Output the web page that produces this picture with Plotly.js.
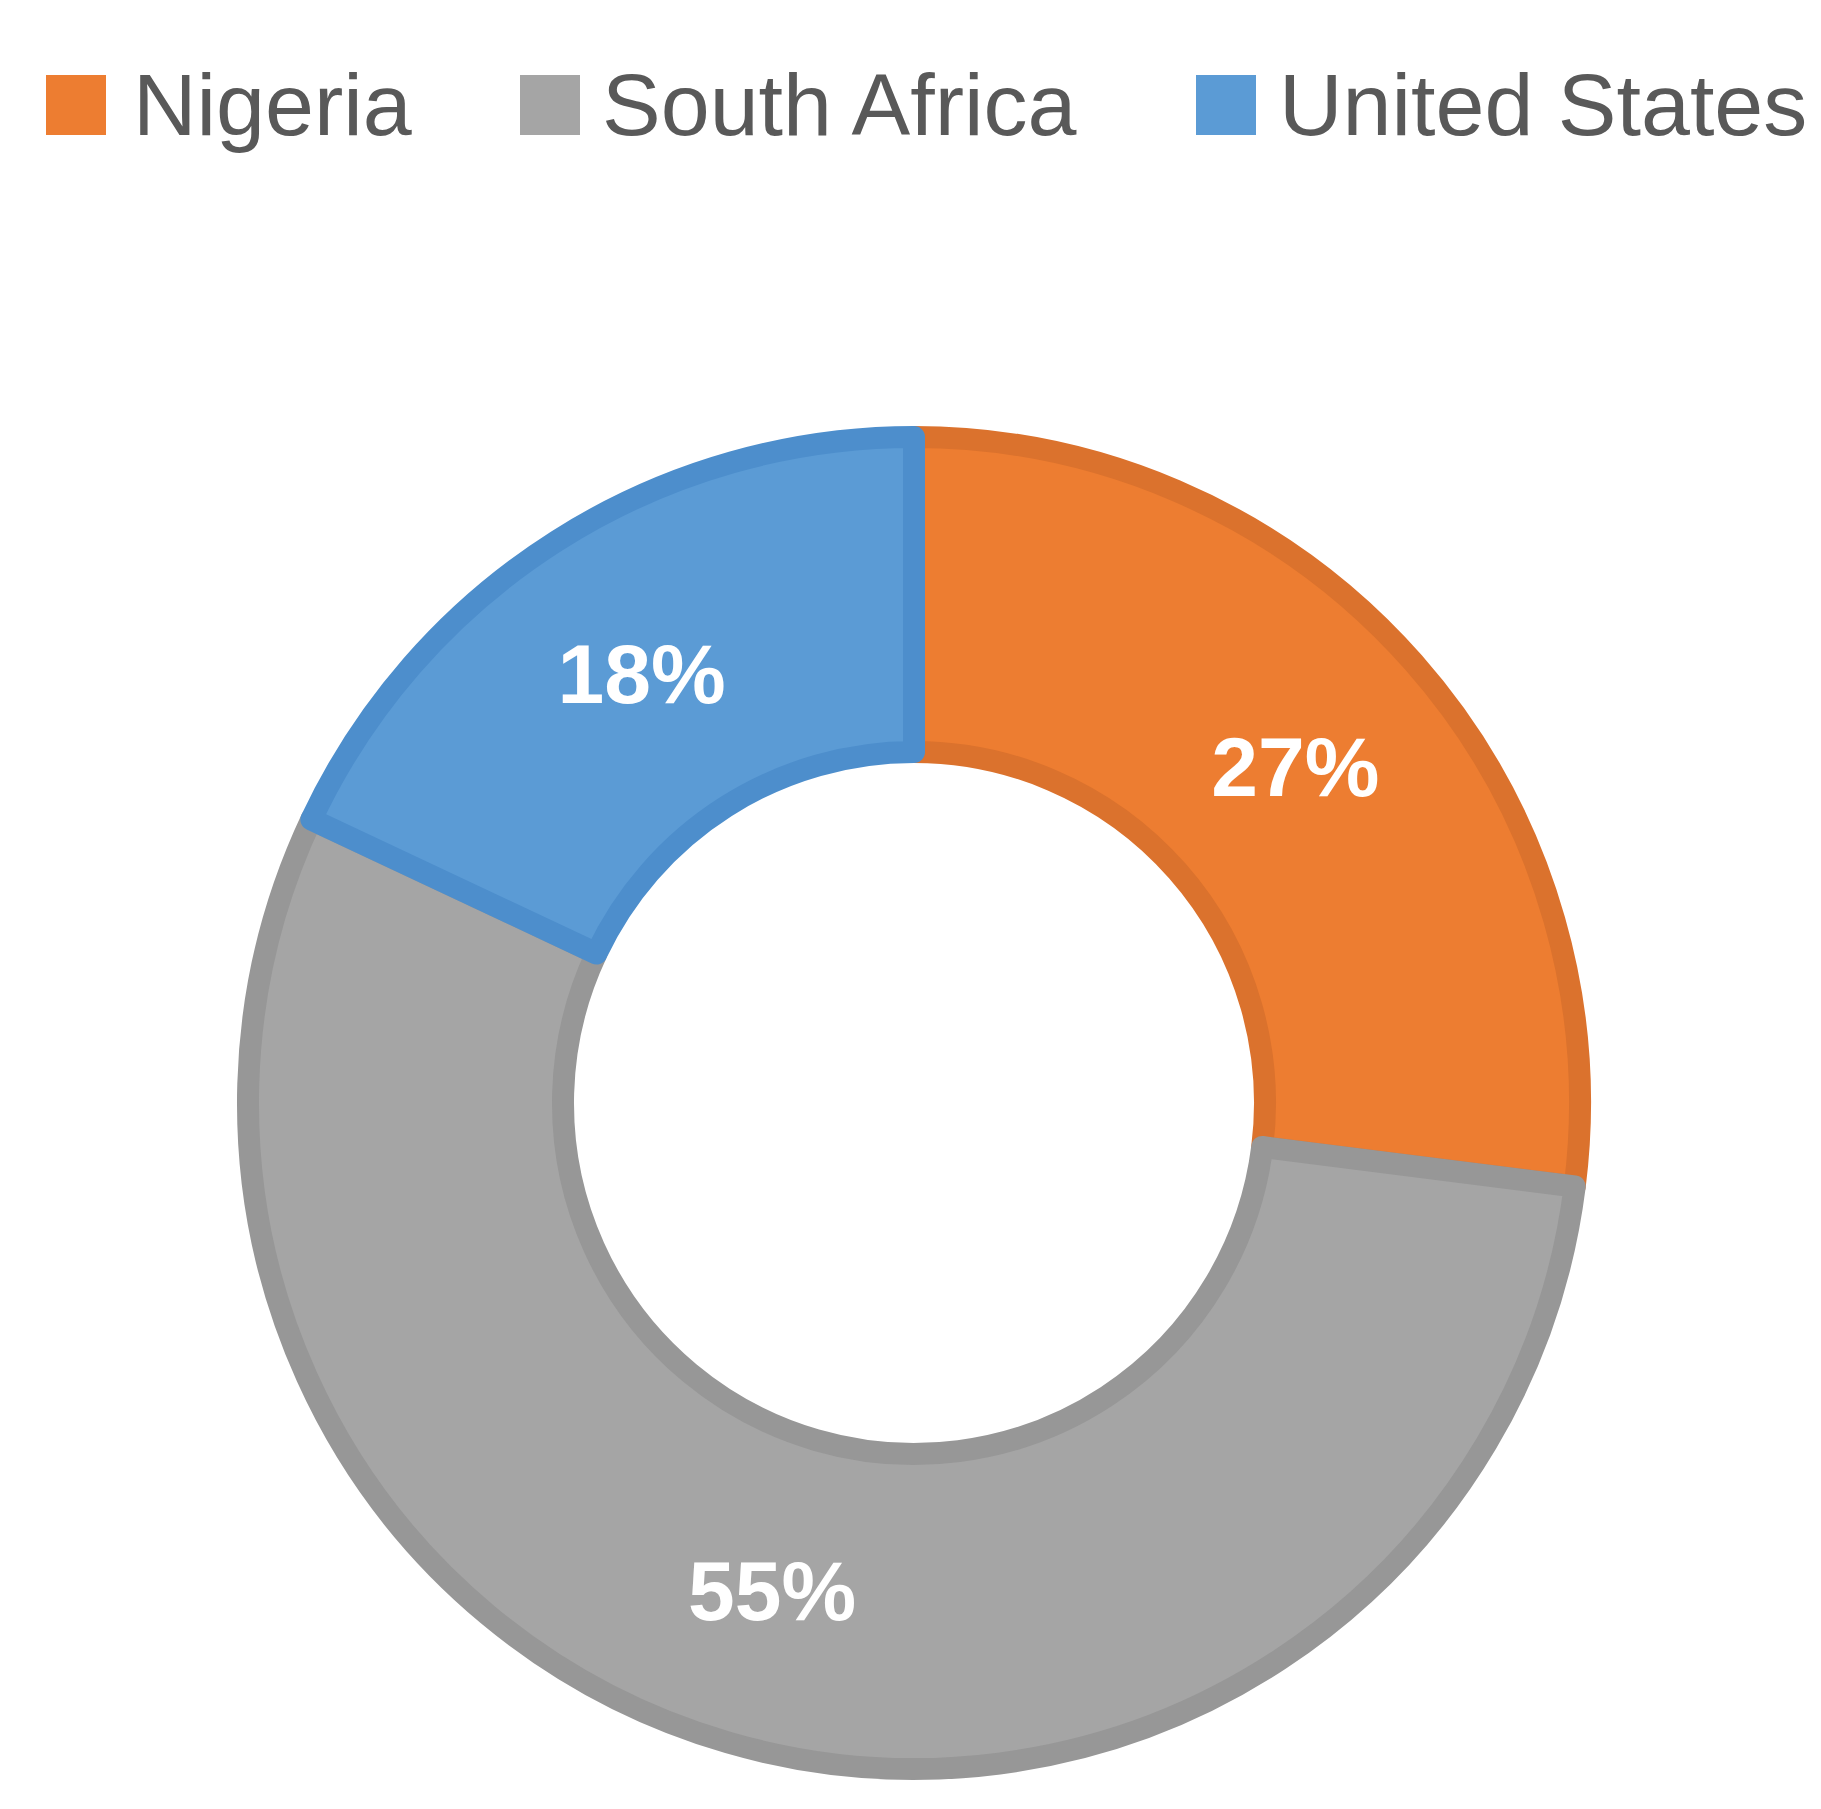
<!DOCTYPE html>
<html>
<head>
<meta charset="utf-8">
<script src="https://cdn.plot.ly/plotly-3.0.1.min.js"></script>
<style>
  html, body { margin: 0; padding: 0; background: #fff; }
  #chart { width: 1821px; height: 1809px; }
</style>
</head>
<body>
<div id="chart"></div>
<script>
const countries = ["Nigeria", "South Africa", "United States"];
const shares = [27, 55, 18];
const fillColors = ["#ED7D31", "#A5A5A5", "#5B9BD5"];
const edgeColors = ["#DB722D", "#979797", "#4D8ECC"];

const W = 1821, H = 1809;
const px = (x) => x / W;
const py = (y) => 1 - y / H;

// Excel-style legend across the top: coloured square + label
const legendX = [46, 520, 1196];   // left edge of each square
const legendTextX = [131, 600, 1277];
const legendTop = 75, legendSize = 60;

const shapes = countries.map((c, i) => ({
  type: "rect", xref: "paper", yref: "paper",
  x0: px(legendX[i]), x1: px(legendX[i] + legendSize),
  y0: py(legendTop + legendSize), y1: py(legendTop),
  fillcolor: fillColors[i], line: { width: 0 },
}));

const annotations = countries.map((c, i) => ({
  text: c, xref: "paper", yref: "paper",
  x: px(legendTextX[i]), y: py(legendTop + legendSize / 2),
  xanchor: "left", yanchor: "middle", showarrow: false,
  font: { family: "Liberation Sans, Arial, sans-serif", size: 88, color: "#595959" },
}));

// donut centre ~ (914, 1103), visible outer radius ~677, inner ~340
// the slice outline is drawn centred on the edge, so shrink by half its width
const cx = 914, cy = 1103, edge = 22;
const r = 677 - edge / 2;
const holeFrac = (340 + edge / 2) / r;

Plotly.newPlot("chart", [{
  type: "pie",
  labels: countries,
  values: shares,
  hole: holeFrac,
  sort: false,
  direction: "clockwise",
  rotation: 0,
  domain: { x: [px(cx - r), px(cx + r)], y: [py(cy + r), py(cy - r)] },
  marker: { colors: fillColors, line: { color: edgeColors, width: edge } },
  textinfo: "percent",
  texttemplate: "%{percent:.0%}",
  textposition: "inside",
  insidetextorientation: "horizontal",
  textfont: { family: "Liberation Sans, Arial, sans-serif", size: 84, color: "#ffffff", weight: "bold" },
  showlegend: false,
  hoverinfo: "label+percent",
}], {
  width: W, height: H,
  margin: { l: 0, r: 0, t: 0, b: 0 },
  paper_bgcolor: "#ffffff",
  showlegend: false,
  shapes: shapes,
  annotations: annotations,
}, { displayModeBar: false });
</script>
</body>
</html>
